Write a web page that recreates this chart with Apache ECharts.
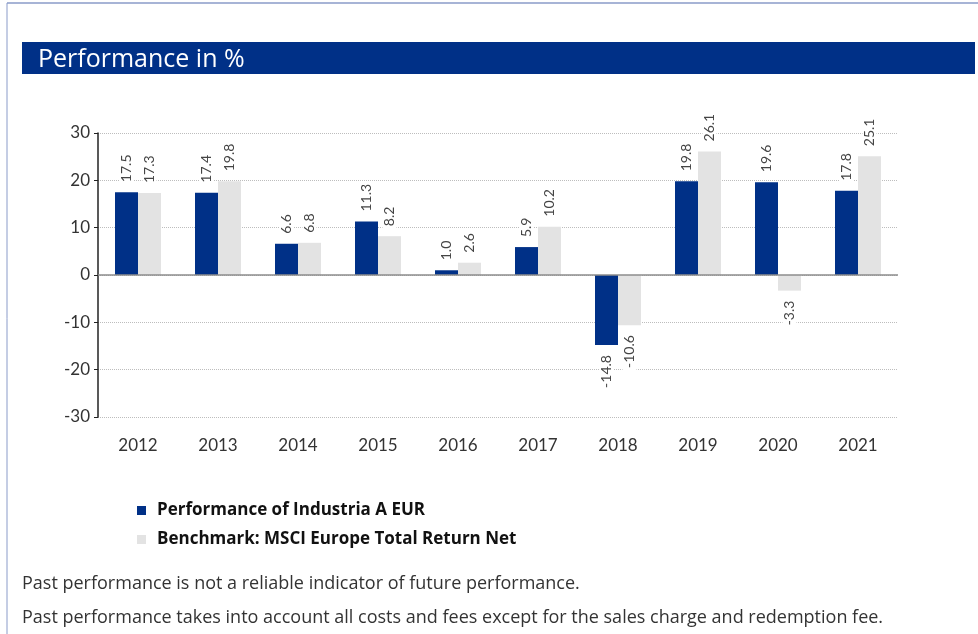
<!DOCTYPE html>
<html lang="en">
<head>
  <meta charset="utf-8" />
  <title>Performance in %</title>
  <script src="https://cdn.jsdelivr.net/npm/echarts@6/dist/echarts.min.js"></script>
  <style>
    html, body { margin: 0; padding: 0; background: #fff; }
    #chart { width: 978px; height: 634px; }
  </style>
</head>
<body>
  <div id="chart"></div>
  <script>
    // data
    var years = ['2012', '2013', '2014', '2015', '2016', '2017', '2018', '2019', '2020', '2021'];
    var fundVals = [17.5, 17.4, 6.6, 11.3, 1.0, 5.9, -14.8, 19.8, 19.6, 17.8];
    var benchVals = [17.3, 19.8, 6.8, 8.2, 2.6, 10.2, -10.6, 26.1, -3.3, 25.1];
    var fundName = 'Performance of Industria A EUR';
    var benchName = 'Benchmark: MSCI Europe Total Return Net';
    var notes = [
      'Past performance is not a reliable indicator of future performance.',
      'Past performance takes into account all costs and fees except for the sales charge and redemption fee.'
    ];

    var FONT = 'Lato';
    var WIDE = 'Open Sans';
    var BLUE = '#003087';
    var GREY = '#e3e3e3';

    // rotated value labels, above positive bars and below negative ones
    function withLabels(vals) {
      return vals.map(function (v) {
        var neg = v < 0;
        return {
          value: v,
          label: {
            position: neg ? 'bottom' : 'top',
            align: neg ? 'right' : 'left'
          }
        };
      });
    }
    var labelBase = {
      show: true,
      rotate: 90,
      verticalAlign: 'middle',
      distance: 8,
      fontFamily: FONT,
      fontSize: 14,
      color: '#444',
      backgroundColor: '#fff',
      padding: [0, 2],
      formatter: function (p) { return p.value.toFixed(1); }
    };

    var chart = echarts.init(document.getElementById('chart'));
    chart.setOption({
      animation: false,
      textStyle: { fontFamily: FONT },
      graphic: [
        { type: 'line', shape: { x1: 7, y1: 3, x2: 978, y2: 3 }, style: { stroke: '#8a9bc9', lineWidth: 1.5 } },
        { type: 'line', shape: { x1: 7, y1: 3, x2: 7, y2: 634 }, style: { stroke: '#8a9bc9', lineWidth: 1 } },
        { type: 'rect', shape: { x: 22, y: 42, width: 953, height: 32 }, style: { fill: BLUE } },
        { type: 'text', left: 38, top: 47, style: { text: 'Performance in %', fill: '#fff', font: '500 25px "' + WIDE + '"' } },
        { type: 'text', left: 22, top: 575, style: { text: notes[0], fill: '#333', font: '18px "' + WIDE + '"' } },
        { type: 'text', left: 22, top: 609, style: { text: notes[1], fill: '#333', font: '18px "' + WIDE + '"' } }
      ],
      legend: {
        orient: 'vertical',
        left: 132,
        top: 497,
        itemGap: 12,
        itemWidth: 9,
        itemHeight: 9,
        icon: 'rect',
        data: [fundName, benchName],
        textStyle: { fontFamily: WIDE, fontSize: 17, fontWeight: 'bold', color: '#111', padding: [0, 0, 0, 6] }
      },
      grid: { left: 98, top: 133, width: 800, height: 284, containLabel: false },
      xAxis: {
        type: 'category',
        data: years,
        axisLine: { show: false },
        axisTick: { show: false },
        axisLabel: { fontSize: 17, color: '#333', margin: 20 }
      },
      yAxis: {
        type: 'value',
        min: -30,
        max: 30,
        interval: 10,
        axisLine: { show: true, onZero: false, lineStyle: { color: '#222', width: 1.5 } },
        axisTick: { show: true, length: 4, lineStyle: { color: '#222' } },
        axisLabel: { fontSize: 17, color: '#333', margin: 8 },
        splitLine: { lineStyle: { color: '#bdbdbd', type: 'dotted' } }
      },
      series: [
        {
          name: fundName,
          type: 'bar',
          barWidth: 23,
          barGap: '0%',
          itemStyle: { color: BLUE },
          label: labelBase,
          data: withLabels(fundVals),
          markLine: {
            silent: true,
            symbol: 'none',
            label: { show: false },
            lineStyle: { color: '#8c8c8c', type: 'solid', width: 1.5 },
            data: [{ yAxis: 0 }]
          }
        },
        {
          name: benchName,
          type: 'bar',
          barWidth: 23,
          itemStyle: { color: GREY },
          label: labelBase,
          data: withLabels(benchVals)
        }
      ]
    });
  </script>
</body>
</html>
